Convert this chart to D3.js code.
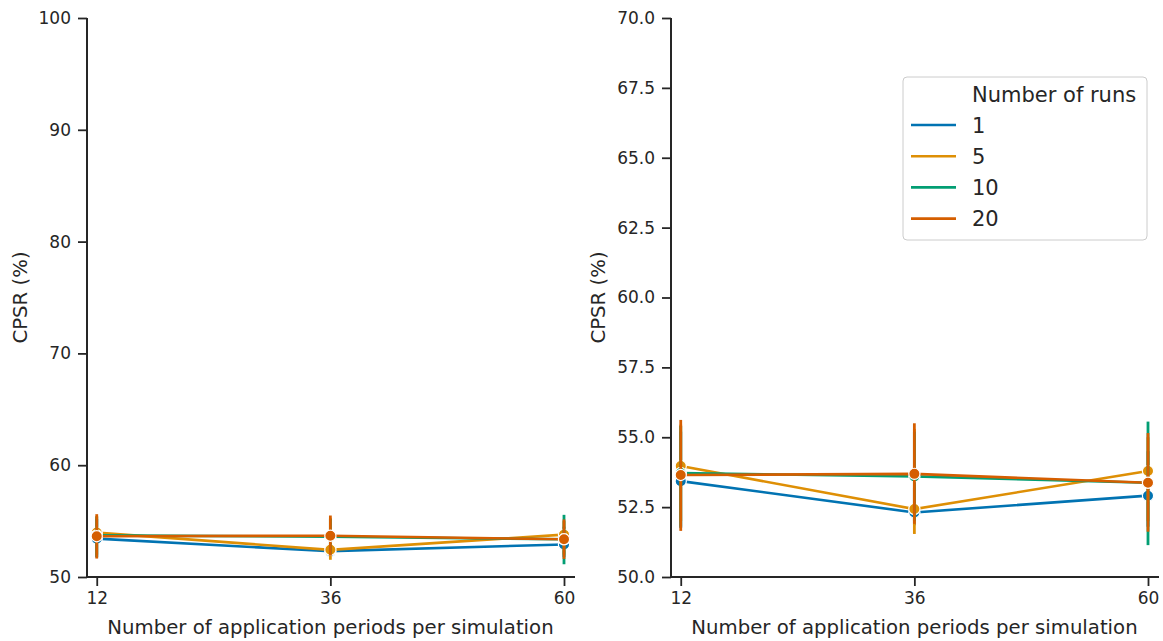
<!DOCTYPE html>
<html>
<head>
<meta charset="utf-8">
<script src="https://cdn.jsdelivr.net/npm/d3@7"></script>
<style>
  html, body { margin: 0; padding: 0; background: #ffffff; }
  svg { display: block; font-family: "DejaVu Sans", sans-serif; }
</style>
</head>
<body>
<svg id="chart" width="1163" height="641"></svg>
<script>
// Application periods per simulation (x values)
const periods = [12, 36, 60];
// Number of runs (hue groups)
const runGroups = ["1", "5", "10", "20"];
const runColors = ["#0173b2", "#de8f05", "#029e73", "#d55e00"];

// Mean CPSR (%) per run group, one value per period
const cpsr1  = [53.43, 52.31, 52.91];
const cpsr5  = [53.97, 52.43, 53.79];
const cpsr10 = [53.72, 53.60, 53.37];
const cpsr20 = [53.65, 53.69, 53.37];

// Confidence interval bounds per run group
const low1  = [51.75, 51.85, 51.80];
const high1 = [55.20, 53.20, 54.50];
const low5  = [52.00, 51.54, 52.00];
const high5 = [55.45, 55.30, 55.00];
const low10 = [51.80, 52.00, 51.14];
const high10 = [55.40, 55.20, 55.56];
const low20 = [51.65, 51.90, 51.62];
const high20 = [55.62, 55.50, 55.15];

// Axis ticks
const xTicks = [12, 36, 60];
const leftYTicks = [50, 60, 70, 80, 90, 100];
const rightYTicks = [50, 52.5, 55, 57.5, 60, 62.5, 65, 67.5, 70];

const means = [cpsr1, cpsr5, cpsr10, cpsr20];
const lows = [low1, low5, low10, low20];
const highs = [high1, high5, high10, high20];

const series = runGroups.map((g, i) => ({
  name: g,
  color: runColors[i],
  points: periods.map((p, j) => ({ x: p, y: means[i][j], lo: lows[i][j], hi: highs[i][j] }))
}));

const ink = "#262626";
const svg = d3.select("#chart");

function drawPanel(cfg) {
  const x = d3.scaleLinear().domain([11, 61.13]).range([cfg.left, cfg.right]);
  const y = d3.scaleLinear().domain(cfg.yDomain).range([cfg.bottom, cfg.top]);
  const g = svg.append("g");

  // y axis
  const yAxis = d3.axisLeft(y).tickValues(cfg.yTicks).tickSize(9).tickPadding(7)
    .tickFormat(cfg.yFormat);
  const ya = g.append("g").attr("transform", `translate(${cfg.left},0)`).call(yAxis);
  // x axis
  const xAxis = d3.axisBottom(x).tickValues(xTicks).tickSize(9).tickPadding(6)
    .tickFormat(d3.format("d"));
  const xa = g.append("g").attr("transform", `translate(0,${cfg.bottom})`).call(xAxis);

  [ya, xa].forEach(a => {
    a.select(".domain").attr("stroke", ink).attr("stroke-width", 2)
      .attr("d", a === ya
        ? `M0,${cfg.bottom}V${cfg.top}`
        : `M${cfg.left},0H${cfg.right}`);
    a.selectAll(".tick line").attr("stroke", ink).attr("stroke-width", 1.8);
    a.selectAll(".tick text").attr("fill", ink).attr("font-size", 17)
      .attr("font-family", "DejaVu Sans");
  });

  // axis titles
  g.append("text")
    .attr("x", (cfg.left + cfg.right) / 2 - 0.5)
    .attr("y", 634)
    .attr("text-anchor", "middle")
    .attr("font-size", 19.7)
    .attr("fill", ink)
    .text("Number of application periods per simulation");
  g.append("text")
    .attr("transform", `translate(${cfg.ylabelX},${(cfg.top + cfg.bottom) / 2}) rotate(-90)`)
    .attr("text-anchor", "middle")
    .attr("font-size", 19.7)
    .attr("fill", ink)
    .text("CPSR (%)");

  const line = d3.line().x(d => x(d.x)).y(d => y(d.y));

  series.forEach(s => {
    const sg = g.append("g");
    sg.append("path")
      .datum(s.points)
      .attr("d", line)
      .attr("fill", "none")
      .attr("stroke", s.color)
      .attr("stroke-width", 2.6);
    sg.selectAll("line.err")
      .data(s.points)
      .join("line")
      .attr("class", "err")
      .attr("x1", d => x(d.x)).attr("x2", d => x(d.x))
      .attr("y1", d => y(d.lo)).attr("y2", d => y(d.hi))
      .attr("stroke", s.color)
      .attr("stroke-width", 2.8);
    sg.selectAll("circle")
      .data(s.points)
      .join("circle")
      .attr("cx", d => x(d.x)).attr("cy", d => y(d.y))
      .attr("r", 5.6)
      .attr("fill", s.color)
      .attr("stroke", "#ffffff")
      .attr("stroke-width", 1.2);
  });
  return { x, y };
}

drawPanel({
  left: 87, right: 575, top: 18, bottom: 577,
  yDomain: [50, 100], yTicks: leftYTicks, yFormat: d3.format("d"), ylabelX: 27
});
drawPanel({
  left: 671, right: 1159, top: 18, bottom: 577,
  yDomain: [50, 70], yTicks: rightYTicks, yFormat: d3.format(".1f"), ylabelX: 605
});

// Legend
const lg = svg.append("g").attr("transform", "translate(903,77)");
lg.append("rect")
  .attr("width", 244).attr("height", 163).attr("rx", 4)
  .attr("fill", "#ffffff").attr("fill-opacity", 0.8)
  .attr("stroke", "#cccccc").attr("stroke-width", 1);
lg.append("text")
  .attr("x", 69).attr("y", 17.5)
  .attr("dy", "0.36em")
  .attr("font-size", 21).attr("fill", ink)
  .text("Number of runs");
series.forEach((s, i) => {
  const yy = 48 + i * 31.2;
  lg.append("line")
    .attr("x1", 8).attr("x2", 53).attr("y1", yy).attr("y2", yy)
    .attr("stroke", s.color).attr("stroke-width", 2.6);
  lg.append("text")
    .attr("x", 69).attr("y", yy).attr("dy", "0.36em")
    .attr("font-size", 21).attr("fill", ink)
    .text(s.name);
});
</script>
</body>
</html>
